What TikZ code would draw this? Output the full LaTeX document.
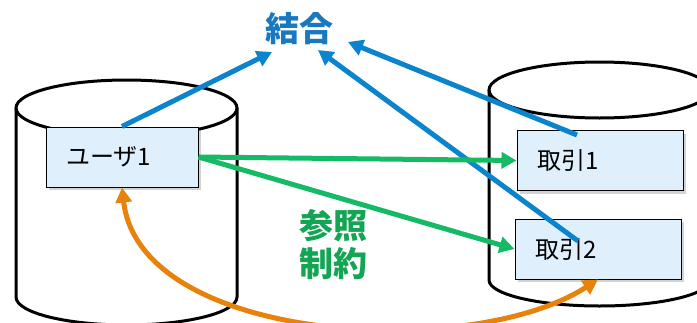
\documentclass[tikz,border=0pt]{standalone}
\usepackage{fontspec}
\newfontfamily\jp{Noto Sans CJK JP}
\usetikzlibrary{arrows.meta,shadows}
\definecolor{joinblue}{HTML}{0A84CC}
\definecolor{jointext}{HTML}{1878C0}
\definecolor{refgreen}{HTML}{14BB64}
\definecolor{reftext}{HTML}{13A553}
\definecolor{fkorange}{HTML}{E8820A}
\definecolor{boxfill}{HTML}{DFF0FC}
\tikzstyle{db}=[line width=3pt, black]
\tikzstyle{record}=[rectangle, draw=black, line width=1pt, fill=boxfill,
  drop shadow={shadow xshift=3pt, shadow yshift=-3pt, opacity=0.35},
  minimum height=60pt, inner xsep=20pt, align=left,
  font=\jp\fontsize{24}{27}\selectfont]
\tikzstyle{bigword}=[font=\jp\bfseries\fontsize{34}{40}\selectfont, align=center]
\tikzstyle{link}=[line width=5pt, -{Triangle[length=15pt,width=16pt]}]

\begin{document}
\begin{tikzpicture}[x=1pt, y=-1pt]
    \useasboundingbox (0,0) rectangle (697,322);
    \clip (0,0) rectangle (697,322);
% Databases
    \draw[db] (16,108) -- (16,297) arc[start angle=180, end angle=0, x radius=110.5, y radius=28] -- (237,108);
    \draw[db] (126.5,108) ellipse[x radius=110.5, y radius=28];
    \draw[db] (489,90) -- (489,280) arc[start angle=180, end angle=0, x radius=110.5, y radius=26] -- (710,90);
    \draw[db] (599.5,90) ellipse[x radius=110.5, y radius=28];
% Records
    \node[record, text width=112pt] (user) at (122,157) {ユーザ1};
    \node[record, text width=126pt] (deal1) at (600,160.5) {取引1};
    \node[record, text width=126pt] (deal2) at (598,249) {取引2};
% Labels
    \node[bigword, text=jointext] (join) at (299,29) {結合};
    \node[bigword, text=reftext] (ref) at (333,245) {参照\\[-2pt]制約};
% Join arrows
    \coordinate (j1) at (272,52);
    \coordinate (j2) at (348,42);
    \coordinate (j3) at (318,50);
    \coordinate (s2) at (577,135);
    \coordinate (s3) at (578,241);
    \draw[link, joinblue] (user.north) -- (j1);
    \draw[link, joinblue] (s2) -- (j2);
    \draw[link, joinblue] (s3) -- (j3);
% Reference arrows
    \draw[link, refgreen] (user.east) -- (deal1.west);
    \draw[link, refgreen] (user.east) -- (deal2.west);
% Foreign key
    \draw[line width=5pt, fkorange, {Triangle[length=15pt,width=16pt]}-{Triangle[length=15pt,width=16pt]}]
      (user.south) .. controls (140,343) and (470,362) .. (deal2.south);
\end{tikzpicture}
\end{document}
